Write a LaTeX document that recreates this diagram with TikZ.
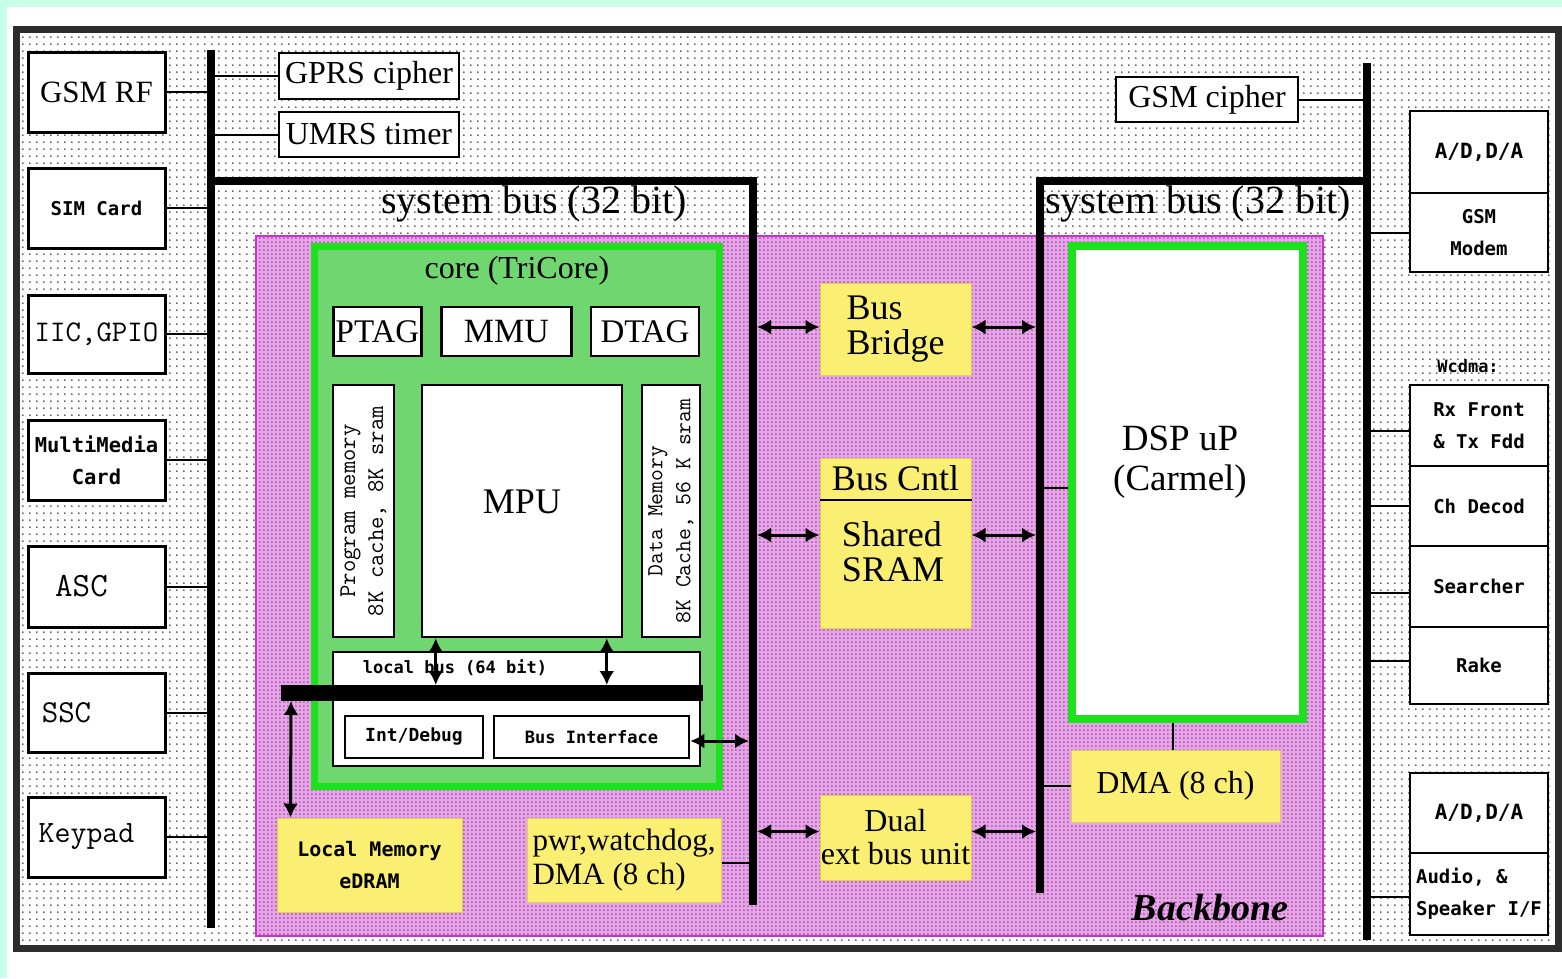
\documentclass[tikz,border=0pt]{standalone}
\usepackage{fontspec}
\setmainfont{Liberation Serif}
\newfontfamily\pixf{DejaVu Sans Mono}
\usetikzlibrary{arrows.meta,patterns.meta}
\newcommand\fsz[2]{\fontsize{#1}{#2}\selectfont}
\definecolor{mint}{RGB}{200,255,232}
\definecolor{framec}{RGB}{45,45,45}
\definecolor{pinkbg}{RGB}{230,165,230}
\definecolor{pinkdot}{RGB}{140,30,140}
\definecolor{pinkline}{RGB}{200,50,200}
\definecolor{coregreen}{RGB}{112,215,112}
\definecolor{brightgreen}{RGB}{30,225,30}
\definecolor{yel}{RGB}{250,238,115}
\definecolor{yeld}{RGB}{225,205,90}
\tikzdeclarepattern{name=sdots, type=uncolored,
  bounding box={(0pt,0pt) and (7.4pt,7.4pt)}, tile size={(7.4pt,7.4pt)},
  code={\fill (2pt,2pt) circle[radius=1pt];}}
\tikzdeclarepattern{name=ddots, type=uncolored,
  bounding box={(0pt,0pt) and (3.6pt,3.6pt)}, tile size={(3.6pt,3.6pt)},
  code={\fill (1pt,1pt) circle[radius=0.85pt];}}
\begin{document}
\begin{tikzpicture}[x=1pt,y=-1pt,
  box/.style={draw=black, line width=3pt, fill=white, inner sep=0pt, align=center},
  tbox/.style={box, line width=2.5pt},
  ybox/.style={fill=yel, draw=yeld, line width=1pt, inner sep=0pt, align=center},
  conn/.style={line width=2pt},
  bus/.style={line width=8.5pt},
  dbl/.style={line width=3pt, {Latex[length=14pt,width=15pt]}-{Latex[length=14pt,width=15pt]}},
  serifL/.style={font=\fsz{32}{36}},
  pixfont/.style={font=\pixf\bfseries\fsz{#1}{32}},
  ttL/.style={font=\ttfamily\fsz{#1}{34}},
]
\useasboundingbox (0,0) rectangle (1562,978);
\fill[white] (0,0) rectangle (1562,978);
\fill[mint] (0,0) rectangle (1562,7);
\fill[mint] (0,0) rectangle (7,978);
\fill[pattern=sdots, pattern color=black!80] (20,33) rectangle (1555,945);
\draw[framec, line width=7pt] (16.5,29.5) rectangle (1558.5,948.5);

% backbone area
\fill[pinkbg] (256,236) rectangle (1323,936);
\fill[pattern=ddots, pattern color=pinkdot] (256,236) rectangle (1323,936);
\draw[pinkline, line width=2.5pt] (256,236) rectangle (1323,936);

% bus positions
\coordinate (lbus) at (211,0);
\coordinate (cbus) at (753,0);
\coordinate (rbus) at (1040,0);
\coordinate (obus) at (1367,0);

% left peripheral boxes
\node[box, minimum width=137pt, minimum height=80pt, font=\fsz{31}{34}] (gsmrf) at (96.5,92) {GSM RF};
\node[box, minimum width=137pt, minimum height=80pt, pixfont=19] (sim) at (96.5,208) {SIM  Card};
\node[box, minimum width=137pt, minimum height=78pt, ttL=30] (iic) at (96.5,334) {IIC,GPIO};
\node[box, minimum width=137pt, minimum height=80pt, pixfont=20.5] (mmc) at (96.5,460) {MultiMedia\\Card};
\node[box, minimum width=137pt, minimum height=81pt, ttL=34] (asc) at (96.5,586.5) {ASC\hspace*{30pt}};
\node[box, minimum width=137pt, minimum height=79pt, ttL=32] (ssc) at (96.5,712.5) {SSC\hspace*{60pt}};
\node[box, minimum width=137pt, minimum height=80pt, ttL=31] (keypad) at (96.5,837) {Keypad\hspace*{20pt}};
\foreach \b in {gsmrf,sim,iic,mmc,asc,ssc,keypad}
  \draw[conn] (\b.east) -- (\b.east -| lbus);

% top cipher/timer
\node[tbox, minimum width=180pt, minimum height=46pt, serifL] (gprs) at (369,76) {GPRS cipher};
\node[tbox, minimum width=180pt, minimum height=45pt, serifL] (umrs) at (369,134.5) {UMRS timer};
\draw[conn] (gprs.west -| lbus) -- (gprs.west);
\draw[conn] (umrs.west -| lbus) -- (umrs.west);

\node[tbox, minimum width=182pt, minimum height=45pt, serifL] (gsmc) at (1207,99.5) {GSM cipher};
\draw[conn] (gsmc.east) -- (gsmc.east -| obus);

% right side boxes
\node[tbox, minimum width=138pt, minimum height=82pt, pixfont=21] (adda1) at (1479,152) {A/D,D/A};
\node[tbox, minimum width=138pt, minimum height=79pt, pixfont=19] (gsmmod) at (1479,232.5) {GSM\\Modem};
\draw[conn] (gsmmod.west -| obus) -- (gsmmod.west);
\node[pixfont=17] (wcdma) at (1468,366) {Wcdma:};
\node[tbox, minimum width=138pt, minimum height=81pt, pixfont=19] (rx) at (1479,425.5) {Rx Front\\\& Tx Fdd};
\node[tbox, minimum width=138pt, minimum height=80pt, pixfont=19] (chd) at (1479,506) {Ch  Decod};
\node[tbox, minimum width=138pt, minimum height=81pt, pixfont=19] (srch) at (1479,586.5) {Searcher};
\node[tbox, minimum width=138pt, minimum height=77pt, pixfont=19] (rake) at (1479,665.5) {Rake};
\node[tbox, minimum width=138pt, minimum height=80pt, pixfont=21] (adda2) at (1479,813) {A/D,D/A};
\node[tbox, minimum width=138pt, minimum height=82pt, pixfont=19, align=left] (audio) at (1479,894) {Audio, \&\\Speaker I/F};
\draw[conn] ([yshift=-5pt]rx.west -| obus) -- ([yshift=-5pt]rx.west);
\draw[conn] (chd.west -| obus) -- (chd.west);
\draw[conn] ([yshift=-6pt]srch.west -| obus) -- ([yshift=-6pt]srch.west);
\draw[conn] ([yshift=5pt]rake.west -| obus) -- ([yshift=5pt]rake.west);
\draw[conn] ([yshift=-3pt]audio.west -| obus) -- ([yshift=-3pt]audio.west);

% buses
\draw[bus] (211,50) -- (211,928);
\draw[bus, line join=miter] (211,181) -- (753,181) -- (753,905);
\draw[bus, line join=miter] (1367,181) -- (1040,181) -- (1040,893);
\draw[bus] (1367,63) -- (1367,940);
\node[font=\fsz{40}{44}] (sb1) at (534,204) {system bus (32 bit)};
\node[font=\fsz{40}{44}] (sb2) at (1198,204) {system bus (32 bit)};

% core
\draw[brightgreen, line width=7pt, fill=coregreen] (314.5,246.5) rectangle (719.5,786.5);
\node[font=\fsz{32}{36}] (corelbl) at (517,271) {core (TriCore)};
\node[tbox, minimum width=88pt, minimum height=49pt, font=\fsz{33}{36}] (ptag) at (377.5,331.5) {PTAG};
\node[tbox, minimum width=130pt, minimum height=49pt, font=\fsz{34}{36}] (mmu) at (506.5,331.5) {MMU};
\node[tbox, minimum width=108pt, minimum height=49pt, font=\fsz{33}{36}] (dtag) at (645,331.5) {DTAG};
\node[tbox, minimum width=61pt, minimum height=252pt] (pmem) at (363.5,511) {};
\node[rotate=90, align=center, font=\ttfamily\fsz{24}{28}] (pmemt) at (pmem.center) {Program  memory\\8K cache, 8K sram};
\node[tbox, minimum width=200pt, minimum height=252pt] (mpu) at (522,511) {};
\node[font=\fsz{36}{40}] (mput) at (522,502) {MPU};
\node[tbox, minimum width=58pt, minimum height=252pt] (dmem) at (671,511) {};
\node[rotate=90, align=center, font=\ttfamily\fsz{23}{28}] (dmemt) at (dmem.center) {Data  Memory\\8K Cache, 56 K sram};
\node[tbox, minimum width=367pt, minimum height=114pt] (lbbox) at (516.5,709) {};
\node[pixfont=17] (lblbl) at (455,668) {local bus (64 bit)};
\coordinate (lb1) at (281,693);
\coordinate (lb2) at (703,693);
\draw[line width=16pt] (lb1) -- (lb2);
\node[tbox, minimum width=138pt, minimum height=42pt, pixfont=18] (intdbg) at (414,737) {Int/Debug};
\node[tbox, minimum width=195pt, minimum height=42pt, pixfont=17] (busif) at (591.5,737) {Bus Interface};
\draw[dbl, shorten >=8pt] ([xshift=15pt]mpu.south west) -- ([xshift=15pt]mpu.south west |- lb1);
\draw[dbl, shorten >=8pt] ([xshift=186pt]mpu.south west) -- ([xshift=186pt]mpu.south west |- lb1);
\draw[dbl, shorten >=4pt] ([yshift=-4pt]busif.east) -- ([yshift=-4pt]busif.east -| cbus);

% yellow blocks
\node[ybox, minimum width=185pt, minimum height=94pt, pixfont=20] (lmem) at (369.5,865) {Local  Memory\\eDRAM};
\draw[dbl, shorten <=8pt] ([xshift=10pt]lb1) -- ([xshift=14pt]lmem.north west);
\node[ybox, minimum width=194pt, minimum height=84pt, font=\fsz{31}{34}, align=left] (pwr) at (624,860) {pwr,watchdog,\\DMA (8 ch)};
\draw[conn] ([yshift=-3pt]pwr.east) -- ([yshift=-3pt]pwr.east -| cbus);

\node[ybox, minimum width=151pt, minimum height=92pt, font=\fsz{36}{35}, align=left] (bbridge) at (895.5,329) {Bus\\Bridge};
\draw[dbl, shorten >=4pt] ([yshift=2pt]bbridge.west) -- ([yshift=2pt]bbridge.west -| cbus);
\draw[dbl, shorten >=4pt] ([yshift=2pt]bbridge.east) -- ([yshift=2pt]bbridge.east -| rbus);

\node[ybox, minimum width=151pt, minimum height=170pt] (bcntl) at (895.5,543) {};
\node[font=\fsz{36}{38}] (bcntlt) at (895.5,478) {Bus Cntl};
\draw[line width=2pt] ([yshift=-42pt]bcntl.north west) -- ([yshift=-42pt]bcntl.north east);
\node[font=\fsz{36}{35}, align=left] (sram) at (893,552) {Shared\\SRAM};
\draw[dbl, shorten >=4pt] ([yshift=8pt]bcntl.west) -- ([yshift=8pt]bcntl.west -| cbus);
\draw[dbl, shorten >=4pt] ([yshift=8pt]bcntl.east) -- ([yshift=8pt]bcntl.east -| rbus);

\node[ybox, minimum width=151pt, minimum height=85pt, font=\fsz{32}{33}] (dual) at (895.5,837.5) {Dual\\ext bus unit};
\draw[dbl, shorten >=4pt] ([yshift=6pt]dual.west) -- ([yshift=6pt]dual.west -| cbus);
\draw[dbl, shorten >=4pt] ([yshift=6pt]dual.east) -- ([yshift=6pt]dual.east -| rbus);

% DSP
\node[draw=brightgreen, line width=8pt, fill=white, minimum width=231pt, minimum height=473pt, inner sep=0pt] (dsp) at (1187.5,482.5) {};
\node[font=\fsz{37}{40}, align=center] (dspt) at (1180,462) {DSP uP\\(Carmel)};
\draw[conn] ([yshift=-5pt]dsp.west -| rbus) -- ([yshift=-5pt]dsp.west);
\node[ybox, minimum width=209pt, minimum height=72pt, font=\fsz{32}{36}] (dma) at (1175.5,786) {DMA (8 ch)};
\draw[conn] ([xshift=-3pt]dma.north) -- ([xshift=-3pt]dma.north |- dsp.south);
\draw[conn] (dma.west -| rbus) -- (dma.west);

\node[font=\bfseries\itshape\fsz{38}{40}] (backbone) at (1210,908) {Backbone};
\end{tikzpicture}
\end{document}
